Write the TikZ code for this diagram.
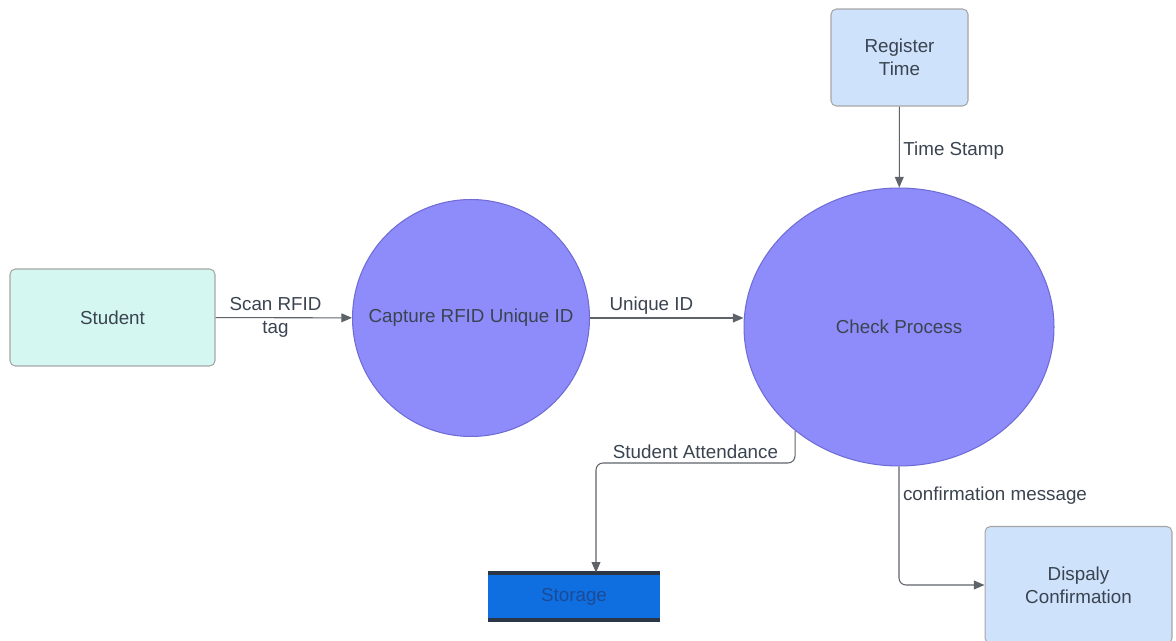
\documentclass[tikz,border=0pt]{standalone}
\usepackage{fontspec}
\setmainfont{Liberation Sans}
\usetikzlibrary{arrows.meta,positioning,shapes.geometric}
\definecolor{ink}{HTML}{3A4450}
\definecolor{edge}{HTML}{5E636A}
\definecolor{mint}{HTML}{D5F7F1}
\definecolor{pale}{HTML}{CFE2FB}
\definecolor{lilac}{HTML}{8E8CFA}
\definecolor{lilacline}{HTML}{6F6CD6}
\definecolor{store}{HTML}{0F6FE0}
\definecolor{storeink}{HTML}{1B4A96}
\definecolor{storeline}{HTML}{2B3646}

\begin{document}
\begin{tikzpicture}[
      x=0.02cm, y=-0.02cm, % 像素坐标
      every node/.style={font=\fontsize{10.7}{13}\selectfont, text=ink},
      entity/.style={draw=gray!70, line width=0.6pt, rounded corners=3pt, align=center},
      process/.style={draw=lilacline, fill=lilac, line width=0.6pt},
      flow/.style={draw=edge, line width=0.6pt, -{Triangle[length=6pt,width=5pt]}},
      lbl/.style={inner sep=2pt, align=center}
    ]
\clip (0,0) rectangle (1176,641);
% 外部实体
\node[entity, fill=mint, minimum width=4.1cm, minimum height=1.94cm] (stu) at (112.5,317.5) {Student};
\node[entity, fill=pale, minimum width=2.74cm, minimum height=1.94cm] (reg) at (899.5,57.5) {Register\\Time};
\node[entity, fill=pale, minimum width=3.74cm, minimum height=2.34cm] (dc) at (1078.5,585) {Dispaly\\Confirmation};
% 处理过程
\node[process, circle, minimum size=4.74cm] (cap) at (471,318) {Capture RFID Unique ID};
\node[process, ellipse, minimum width=6.2cm, minimum height=5.56cm] (cp) at (899,327) {Check Process};
% 数据存储
\node[fill=store, minimum width=3.44cm, minimum height=0.94cm, text=storeink] (st) at (574,596.5) {Storage};
\draw[storeline, line width=2.2pt] (st.north west) -- (st.north east);
\draw[storeline, line width=2.2pt] (st.south west) -- (st.south east);
% 数据流
\draw[flow] (stu) -- node[lbl, pos=0.44]{Scan RFID\\tag} (cap);
\draw[flow] (cap.east) -- node[lbl, above, pos=0.4]{Unique ID} (cap.east -| cp.west);
\draw[flow] (reg) -- node[lbl, right, pos=0.55]{Time Stamp} (cp);
\coordinate (bend) at (795,463);
\draw[flow, rounded corners=4pt] (cp.225) -- (bend) -| node[lbl, above, pos=0.25]{Student Attendance} ([xshift=0.44cm]st.north);
\draw[flow, rounded corners=4pt] (cp.south) |- node[lbl, right, pos=0.125]{confirmation message} (dc.west);
\end{tikzpicture}
\end{document}
